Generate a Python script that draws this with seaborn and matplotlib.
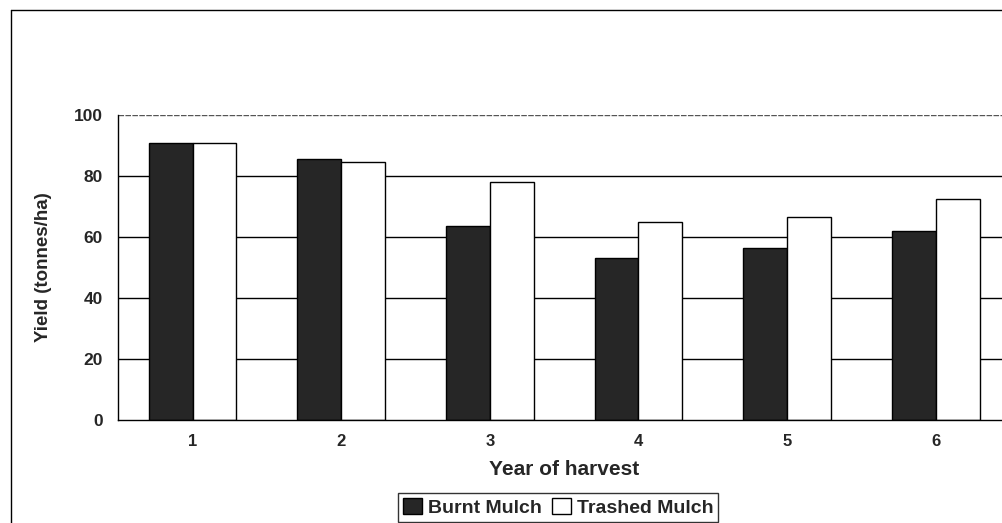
import matplotlib
matplotlib.use("Agg")
import matplotlib.pyplot as plt
from matplotlib.lines import Line2D
import pandas as pd
import seaborn as sns

years = ["1", "2", "3", "4", "5", "6"]
burnt = [91, 85.5, 63.5, 53, 56.5, 62]
trashed = [91, 84.5, 78, 65, 66.5, 72.5]
series = ["Burnt Mulch", "Trashed Mulch"]
y_ticks = [0, 20, 40, 60, 80, 100]

df = pd.DataFrame({
    "year": years * 2,
    "yield": burnt + trashed,
    "treatment": [series[0]] * len(years) + [series[1]] * len(years),
})

sns.set_style("white")
plt.rcParams["font.family"] = ["Liberation Sans", "DejaVu Sans"]
plt.rcParams["font.weight"] = "bold"

fig = plt.figure(figsize=(10.02, 5.23), dpi=100)
ax = fig.add_axes([0.118, 0.197, 0.89, 0.583])

sns.barplot(
    data=df, x="year", y="yield", hue="treatment",
    palette=["#262626", "white"], edgecolor="black", linewidth=1,
    width=0.59, gap=0, ax=ax, legend=True, saturation=1,
)

ax.set_ylim(0, 100)
ax.set_xlim(-0.5, 5.5)
ax.set_yticks(y_ticks)
ax.set_yticklabels([str(t) for t in y_ticks], fontsize=12.5, fontweight="bold")
for t in y_ticks[1:-1]:
    ax.axhline(t, color="black", linewidth=1, zorder=0)
ax.axhline(100, color="#555555", linewidth=1, linestyle=(0, (4, 1)), zorder=0)

ax.set_xticks(range(len(years)))
ax.set_xticklabels(years, fontsize=12, fontweight="bold")
ax.set_xticks([i + 0.5 for i in range(-1, len(years))], minor=True)
ax.tick_params(axis="x", which="major", length=0, pad=10)
ax.tick_params(axis="x", which="minor", length=5, direction="out", color="black")
ax.tick_params(axis="y", length=6, direction="out", color="black", pad=5)

for side in ["top", "right"]:
    ax.spines[side].set_visible(False)
for side in ["left", "bottom"]:
    ax.spines[side].set_color("black")
    ax.spines[side].set_linewidth(1)

ax.set_ylabel("Yield (tonnes/ha)", fontsize=13.5, fontweight="bold", labelpad=16)
ax.set_xlabel("Year of harvest", fontsize=15, fontweight="bold", labelpad=8)

handles, labels = ax.get_legend_handles_labels()
ax.legend_.remove()
leg = fig.legend(
    handles, labels, loc="center", bbox_to_anchor=(0.557, 0.03), ncol=2,
    frameon=True, fancybox=False, edgecolor="black",
    handlelength=1.0, handleheight=0.9, handletextpad=0.3, columnspacing=0.5,
    borderpad=0.25, prop={"weight": "bold", "size": 14},
)
leg.get_frame().set_linewidth(1)

# chart area border (left and top edges)
fig.add_artist(Line2D([0.011, 0.011], [0.0, 0.981], color="black", linewidth=1))
fig.add_artist(Line2D([0.011, 1.0], [0.981, 0.981], color="black", linewidth=1))

fig.savefig("out.png", dpi=100)
